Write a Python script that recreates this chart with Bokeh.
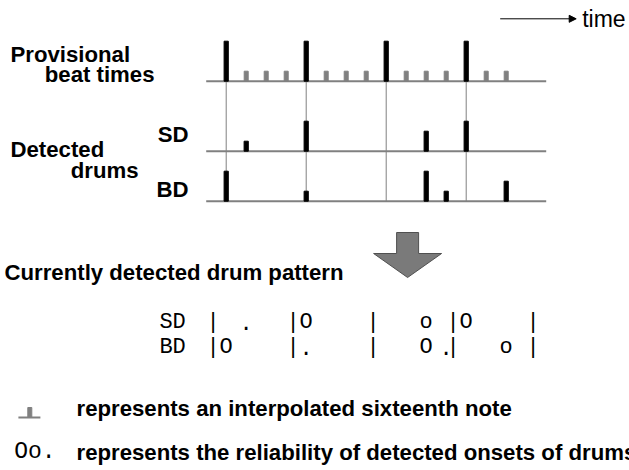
from bokeh.plotting import figure
from bokeh.models import Range1d, ColumnDataSource, Arrow, NormalHead
from bokeh.core.properties import value
from bokeh.embed import file_html
from bokeh.resources import INLINE

# ---- data (x in sixteenth notes, heights in reliability levels) ----
beats = [0, 4, 8, 12]
sixteenths = [1, 2, 3, 5, 6, 7, 9, 10, 11, 13, 14]
sd_onsets = [1, 4, 10, 12]
sd_levels = [1, 3, 2, 3]
bd_onsets = [0, 4, 10, 11, 14]
bd_levels = [3, 1, 3, 1, 2]
beat_level = 4.0
tick_level = 1
level_symbols = {3: "O", 2: "o", 1: "."}
bar_positions = [0, 4, 8, 12, 16]

# ---- layout (y units: 10 px, increasing downward) ----
BEAT_BASE, SD_BASE, BD_BASE = 8.07, 15.07, 20.07
LINE_START, LINE_END = -1, 16
SANS = value("Liberation Sans")
MONO = value("Liberation Mono")
GRAY = "#808080"
BOLD_SIZE = "22.2px"

p = figure(width=629, height=470, x_range=Range1d(-11.285, 20.165),
           y_range=Range1d(47.0, 0.0), output_backend="svg",
           toolbar_location=None, x_axis_location=None, y_axis_location=None,
           min_border=0, outline_line_color=None)
p.grid.visible = False
p.background_fill_color = "white"

# baselines
for base in (BEAT_BASE, SD_BASE, BD_BASE):
    p.segment(x0=LINE_START, x1=LINE_END, y0=base, y1=base,
              line_color=GRAY, line_width=2)
# thin beat guide lines
p.segment(x0=beats, x1=beats, y0=[BEAT_BASE] * len(beats), y1=[BD_BASE] * len(beats),
          line_color=GRAY, line_width=1)
# provisional beats and interpolated sixteenths
p.vbar(x=beats, width=0.21, bottom=BEAT_BASE,
       top=[BEAT_BASE - beat_level] * len(beats), color="black")
p.vbar(x=sixteenths, width=0.2, bottom=BEAT_BASE,
       top=[BEAT_BASE - tick_level] * len(sixteenths), color=GRAY)
# detected drums
p.vbar(x=sd_onsets, width=0.21, bottom=SD_BASE,
       top=[SD_BASE - l for l in sd_levels], color="black")
p.vbar(x=bd_onsets, width=0.21, bottom=BD_BASE,
       top=[BD_BASE - l for l in bd_levels], color="black")

def label(x, y, txt, size=BOLD_SIZE, align="left", bold=True, font=SANS):
    p.text(x=[x], y=[y], text=[txt], text_font=font, text_font_size=size,
           text_font_style="bold" if bold else "normal", text_align=align,
           text_baseline="alphabetic", text_color="black")

# left labels
label(-10.785, 5.35, "Provisional")
label(-3.585, 7.35, "beat times", align="right")
label(-10.785, 14.85, "Detected")
label(-4.385, 16.95, "drums", align="right")
label(-1.885, 13.35, "SD", align="right")
label(-1.885, 18.85, "BD", align="right")

# time arrow
p.add_layout(Arrow(end=NormalHead(size=7, fill_color="black", line_color="black"),
                   x_start=13.7, y_start=1.83, x_end=17.5, y_end=1.83,
                   line_width=1, line_color="black"))
label(17.8, 1.85, "time", size="23px", bold=False)

# big gray arrow
cx = 9.07
p.patch(x=[cx - 0.55, cx + 0.55, cx + 0.55, cx + 1.7, cx, cx - 1.7, cx - 0.55],
        y=[23.2, 23.2, 25.3, 25.3, 27.7, 25.3, 25.3],
        fill_color="#7a7a7a", line_color="#505050", line_width=1)

label(-11.085, 27.15, "Currently detected drum pattern")

# pattern text
PAT_SD, PAT_BD = 32.15, 34.65
for name, base, ons, lev in (("SD", PAT_SD, sd_onsets, sd_levels),
                             ("BD", PAT_BD, bd_onsets, bd_levels)):
    src = ColumnDataSource(dict(x=ons, y=[base] * len(ons),
                                t=[level_symbols[l] for l in lev]))
    p.text(x="x", y="y", text="t", source=src, text_font=MONO,
           text_font_size="22px", text_align="center", text_baseline="alphabetic")
    p.text(x=[b - 0.65 for b in bar_positions], y=[base] * len(bar_positions),
           text=["|"] * len(bar_positions), text_font=MONO, text_font_size="22px",
           text_align="center", text_baseline="alphabetic")
    label(-2.68, base, name, size="22px", align="center", bold=False, font=MONO)

# legend
p.segment(x0=-10.39, x1=-9.29, y0=41.7, y1=41.7, line_color=GRAY, line_width=2)
p.vbar(x=[-9.82], width=0.2, bottom=41.7, top=41.7 - tick_level, color=GRAY)
label(-7.485, 40.75, "represents an interpolated sixteenth note")
label(-10.6, 45.15, "".join(level_symbols[l] for l in (3, 2, 1)), size="23px",
      bold=False, font=MONO)
label(-7.485, 45.15, "represents the reliability of detected onsets of drums")

open("out.html", "w").write(file_html(p, INLINE))
